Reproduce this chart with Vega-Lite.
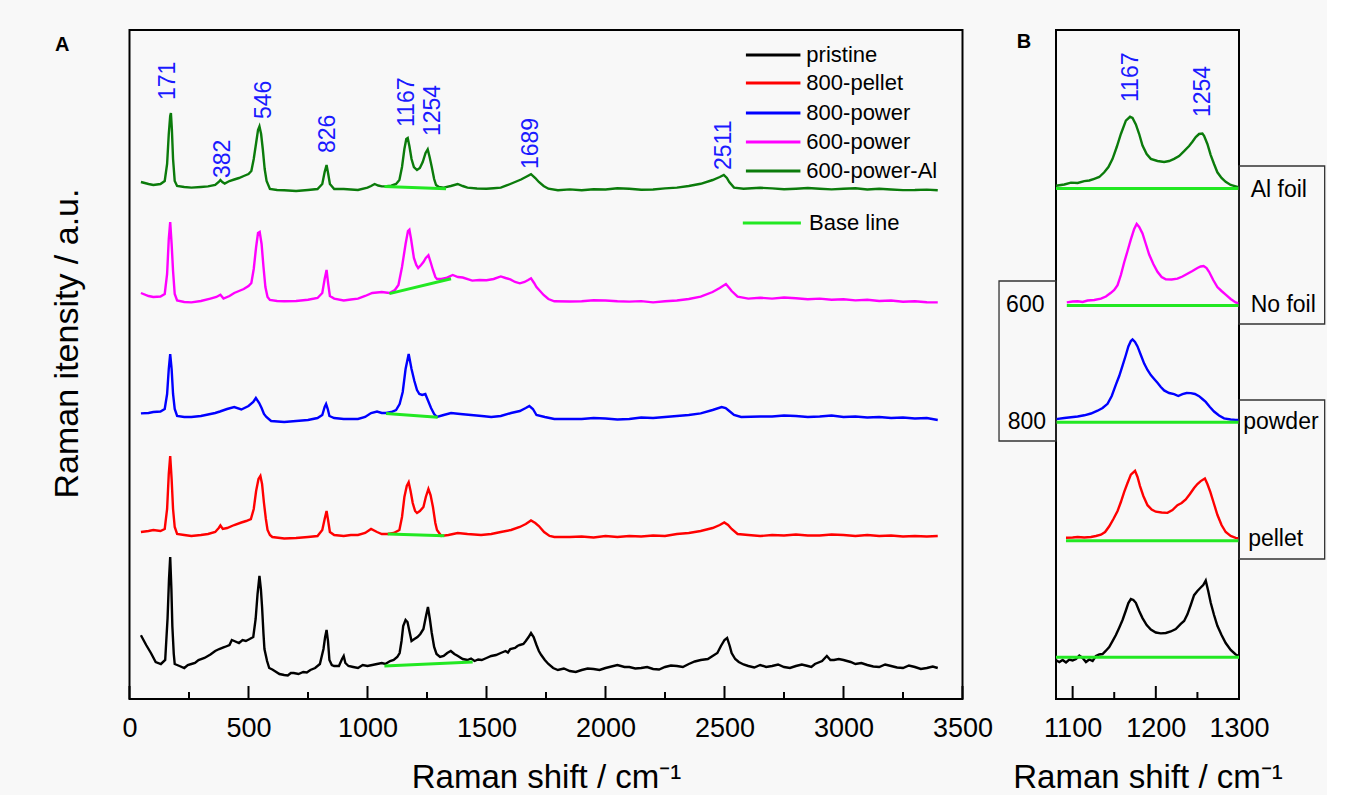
{
"$schema": "https://vega.github.io/schema/vega-lite/v6.json",
"background": "#f8f8f8",
"padding": {"left": 49.5, "top": 29, "right": 0, "bottom": 0},
"bounds": "flush",
"spacing": 93.5,
"config": {
  "view": {"stroke": "black", "strokeWidth": 2},
  "font": "Liberation Sans",
  "text": {"font": "Liberation Sans"},
  "axis": {"labelFont": "Liberation Sans", "titleFont": "Liberation Sans", "labelColor": "black", "titleColor": "black", "titleFontWeight": "normal"}
},
"datasets": {
  "specA": [
    {"s":"pristine","x":48,"y":63.7},{"s":"pristine","x":70,"y":54},{"s":"pristine","x":90,"y":46},{"s":"pristine","x":110,"y":37},{"s":"pristine","x":132,"y":35},{"s":"pristine","x":150,"y":39},{"s":"pristine","x":160,"y":81},{"s":"pristine","x":166,"y":120},{"s":"pristine","x":171,"y":142},{"s":"pristine","x":176,"y":110},{"s":"pristine","x":180,"y":73},{"s":"pristine","x":186,"y":45},{"s":"pristine","x":190,"y":35},{"s":"pristine","x":210,"y":33},{"s":"pristine","x":230,"y":31},{"s":"pristine","x":245,"y":34},{"s":"pristine","x":260,"y":35},{"s":"pristine","x":275,"y":36},{"s":"pristine","x":290,"y":39},{"s":"pristine","x":315,"y":41},{"s":"pristine","x":340,"y":44.5},{"s":"pristine","x":360,"y":48},{"s":"pristine","x":377,"y":50},{"s":"pristine","x":400,"y":52},{"s":"pristine","x":420,"y":54},{"s":"pristine","x":430,"y":59},{"s":"pristine","x":440,"y":58},{"s":"pristine","x":460,"y":56},{"s":"pristine","x":475,"y":59},{"s":"pristine","x":489,"y":58},{"s":"pristine","x":505,"y":60},{"s":"pristine","x":520,"y":62},{"s":"pristine","x":530,"y":80},{"s":"pristine","x":538,"y":105},{"s":"pristine","x":546,"y":123},{"s":"pristine","x":552,"y":110},{"s":"pristine","x":557,"y":92},{"s":"pristine","x":563,"y":65},{"s":"pristine","x":567,"y":50},{"s":"pristine","x":578,"y":38},{"s":"pristine","x":587,"y":31},{"s":"pristine","x":600,"y":29.5},{"s":"pristine","x":610,"y":28},{"s":"pristine","x":630,"y":25},{"s":"pristine","x":650,"y":24},{"s":"pristine","x":665,"y":23.5},{"s":"pristine","x":678,"y":26},{"s":"pristine","x":690,"y":26},{"s":"pristine","x":710,"y":25},{"s":"pristine","x":730,"y":27},{"s":"pristine","x":745,"y":26.5},{"s":"pristine","x":760,"y":29},{"s":"pristine","x":780,"y":31},{"s":"pristine","x":800,"y":35},{"s":"pristine","x":815,"y":50},{"s":"pristine","x":822,"y":62},{"s":"pristine","x":828,"y":69},{"s":"pristine","x":834,"y":58},{"s":"pristine","x":840,"y":39},{"s":"pristine","x":850,"y":34},{"s":"pristine","x":860,"y":33},{"s":"pristine","x":880,"y":33},{"s":"pristine","x":893,"y":40},{"s":"pristine","x":900,"y":43},{"s":"pristine","x":907,"y":36},{"s":"pristine","x":920,"y":33},{"s":"pristine","x":940,"y":32},{"s":"pristine","x":960,"y":31},{"s":"pristine","x":980,"y":34},{"s":"pristine","x":1000,"y":33},{"s":"pristine","x":1020,"y":34},{"s":"pristine","x":1040,"y":35},{"s":"pristine","x":1060,"y":36},{"s":"pristine","x":1075,"y":35},{"s":"pristine","x":1095,"y":38},{"s":"pristine","x":1110,"y":39},{"s":"pristine","x":1125,"y":42},{"s":"pristine","x":1135,"y":46},{"s":"pristine","x":1143,"y":58},{"s":"pristine","x":1150,"y":73},{"s":"pristine","x":1160,"y":79},{"s":"pristine","x":1168,"y":77},{"s":"pristine","x":1176,"y":68},{"s":"pristine","x":1185,"y":58},{"s":"pristine","x":1197,"y":60},{"s":"pristine","x":1210,"y":62},{"s":"pristine","x":1222,"y":65},{"s":"pristine","x":1235,"y":70},{"s":"pristine","x":1245,"y":82},{"s":"pristine","x":1254,"y":92},{"s":"pristine","x":1262,"y":80},{"s":"pristine","x":1270,"y":66},{"s":"pristine","x":1280,"y":52},{"s":"pristine","x":1290,"y":45},{"s":"pristine","x":1305,"y":42},{"s":"pristine","x":1320,"y":43},{"s":"pristine","x":1335,"y":46},{"s":"pristine","x":1350,"y":48},{"s":"pristine","x":1365,"y":45},{"s":"pristine","x":1380,"y":43},{"s":"pristine","x":1400,"y":40},{"s":"pristine","x":1420,"y":39},{"s":"pristine","x":1435,"y":40.5},{"s":"pristine","x":1450,"y":38},{"s":"pristine","x":1465,"y":39.5},{"s":"pristine","x":1480,"y":39},{"s":"pristine","x":1500,"y":41},{"s":"pristine","x":1520,"y":43},{"s":"pristine","x":1540,"y":44},{"s":"pristine","x":1560,"y":46},{"s":"pristine","x":1580,"y":48},{"s":"pristine","x":1590,"y":46.5},{"s":"pristine","x":1600,"y":50},{"s":"pristine","x":1620,"y":51},{"s":"pristine","x":1630,"y":53},{"s":"pristine","x":1640,"y":54},{"s":"pristine","x":1655,"y":55},{"s":"pristine","x":1665,"y":58},{"s":"pristine","x":1677,"y":62},{"s":"pristine","x":1687,"y":66},{"s":"pristine","x":1698,"y":62},{"s":"pristine","x":1710,"y":54},{"s":"pristine","x":1720,"y":48},{"s":"pristine","x":1730,"y":44},{"s":"pristine","x":1745,"y":39},{"s":"pristine","x":1760,"y":35},{"s":"pristine","x":1780,"y":31},{"s":"pristine","x":1800,"y":29},{"s":"pristine","x":1825,"y":30.5},{"s":"pristine","x":1850,"y":28},{"s":"pristine","x":1875,"y":27},{"s":"pristine","x":1900,"y":29},{"s":"pristine","x":1925,"y":30.5},{"s":"pristine","x":1950,"y":30},{"s":"pristine","x":1975,"y":29},{"s":"pristine","x":2000,"y":31},{"s":"pristine","x":2025,"y":32.5},{"s":"pristine","x":2050,"y":34},{"s":"pristine","x":2080,"y":32},{"s":"pristine","x":2100,"y":32},{"s":"pristine","x":2125,"y":30.5},{"s":"pristine","x":2150,"y":31},{"s":"pristine","x":2175,"y":32},{"s":"pristine","x":2200,"y":30},{"s":"pristine","x":2225,"y":29.5},{"s":"pristine","x":2250,"y":32},{"s":"pristine","x":2275,"y":33.5},{"s":"pristine","x":2300,"y":33},{"s":"pristine","x":2325,"y":32},{"s":"pristine","x":2350,"y":35},{"s":"pristine","x":2375,"y":37.5},{"s":"pristine","x":2400,"y":39},{"s":"pristine","x":2430,"y":40},{"s":"pristine","x":2450,"y":43},{"s":"pristine","x":2470,"y":46},{"s":"pristine","x":2485,"y":53},{"s":"pristine","x":2500,"y":59},{"s":"pristine","x":2511,"y":61},{"s":"pristine","x":2522,"y":53},{"s":"pristine","x":2530,"y":46},{"s":"pristine","x":2545,"y":40},{"s":"pristine","x":2560,"y":37},{"s":"pristine","x":2580,"y":34.5},{"s":"pristine","x":2600,"y":33},{"s":"pristine","x":2625,"y":31.5},{"s":"pristine","x":2650,"y":34},{"s":"pristine","x":2675,"y":32},{"s":"pristine","x":2700,"y":33},{"s":"pristine","x":2725,"y":34.5},{"s":"pristine","x":2750,"y":32},{"s":"pristine","x":2775,"y":31},{"s":"pristine","x":2800,"y":33},{"s":"pristine","x":2825,"y":34.5},{"s":"pristine","x":2850,"y":33},{"s":"pristine","x":2865,"y":32},{"s":"pristine","x":2880,"y":35},{"s":"pristine","x":2910,"y":38},{"s":"pristine","x":2930,"y":43},{"s":"pristine","x":2945,"y":39},{"s":"pristine","x":2960,"y":39},{"s":"pristine","x":2980,"y":40},{"s":"pristine","x":3000,"y":39},{"s":"pristine","x":3030,"y":37},{"s":"pristine","x":3050,"y":35},{"s":"pristine","x":3075,"y":36},{"s":"pristine","x":3100,"y":34},{"s":"pristine","x":3125,"y":32.5},{"s":"pristine","x":3150,"y":32},{"s":"pristine","x":3175,"y":34.5},{"s":"pristine","x":3200,"y":33},{"s":"pristine","x":3225,"y":31.5},{"s":"pristine","x":3250,"y":31},{"s":"pristine","x":3275,"y":33.5},{"s":"pristine","x":3300,"y":32},{"s":"pristine","x":3325,"y":30},{"s":"pristine","x":3350,"y":31},{"s":"pristine","x":3375,"y":32.5},{"s":"pristine","x":3396,"y":31},

    {"s":"800-pellet","x":48,"y":167},{"s":"800-pellet","x":80,"y":168},{"s":"800-pellet","x":100,"y":169},{"s":"800-pellet","x":130,"y":168},{"s":"800-pellet","x":148,"y":170},{"s":"800-pellet","x":158,"y":190},{"s":"800-pellet","x":165,"y":225},{"s":"800-pellet","x":171,"y":243},{"s":"800-pellet","x":177,"y":220},{"s":"800-pellet","x":183,"y":190},{"s":"800-pellet","x":190,"y":172},{"s":"800-pellet","x":200,"y":165},{"s":"800-pellet","x":230,"y":164},{"s":"800-pellet","x":260,"y":163},{"s":"800-pellet","x":300,"y":164},{"s":"800-pellet","x":330,"y":165},{"s":"800-pellet","x":360,"y":167},{"s":"800-pellet","x":375,"y":171},{"s":"800-pellet","x":382,"y":173.5},{"s":"800-pellet","x":392,"y":170},{"s":"800-pellet","x":410,"y":171},{"s":"800-pellet","x":440,"y":174},{"s":"800-pellet","x":470,"y":176.5},{"s":"800-pellet","x":490,"y":178},{"s":"800-pellet","x":510,"y":180},{"s":"800-pellet","x":522,"y":190},{"s":"800-pellet","x":532,"y":208},{"s":"800-pellet","x":542,"y":220},{"s":"800-pellet","x":550,"y":223},{"s":"800-pellet","x":557,"y":215},{"s":"800-pellet","x":565,"y":196},{"s":"800-pellet","x":573,"y":180},{"s":"800-pellet","x":580,"y":169},{"s":"800-pellet","x":590,"y":164},{"s":"800-pellet","x":600,"y":162},{"s":"800-pellet","x":650,"y":160.5},{"s":"800-pellet","x":700,"y":161},{"s":"800-pellet","x":750,"y":162},{"s":"800-pellet","x":790,"y":163},{"s":"800-pellet","x":810,"y":169},{"s":"800-pellet","x":820,"y":180},{"s":"800-pellet","x":828,"y":188},{"s":"800-pellet","x":835,"y":178},{"s":"800-pellet","x":842,"y":167},{"s":"800-pellet","x":860,"y":164},{"s":"800-pellet","x":900,"y":163},{"s":"800-pellet","x":930,"y":164},{"s":"800-pellet","x":960,"y":164},{"s":"800-pellet","x":990,"y":166},{"s":"800-pellet","x":1015,"y":170},{"s":"800-pellet","x":1040,"y":167},{"s":"800-pellet","x":1060,"y":165},{"s":"800-pellet","x":1085,"y":165},{"s":"800-pellet","x":1110,"y":166},{"s":"800-pellet","x":1134,"y":169},{"s":"800-pellet","x":1145,"y":182},{"s":"800-pellet","x":1155,"y":202},{"s":"800-pellet","x":1165,"y":213},{"s":"800-pellet","x":1173,"y":216.7},{"s":"800-pellet","x":1181,"y":208},{"s":"800-pellet","x":1190,"y":196},{"s":"800-pellet","x":1200,"y":188},{"s":"800-pellet","x":1208,"y":186},{"s":"800-pellet","x":1220,"y":188},{"s":"800-pellet","x":1235,"y":192},{"s":"800-pellet","x":1245,"y":202},{"s":"800-pellet","x":1256,"y":210},{"s":"800-pellet","x":1265,"y":204},{"s":"800-pellet","x":1275,"y":192},{"s":"800-pellet","x":1285,"y":176},{"s":"800-pellet","x":1292,"y":169},{"s":"800-pellet","x":1310,"y":163},{"s":"800-pellet","x":1340,"y":164},{"s":"800-pellet","x":1379,"y":166},{"s":"800-pellet","x":1420,"y":165},{"s":"800-pellet","x":1477,"y":164},{"s":"800-pellet","x":1520,"y":165},{"s":"800-pellet","x":1560,"y":167},{"s":"800-pellet","x":1603,"y":169},{"s":"800-pellet","x":1640,"y":172},{"s":"800-pellet","x":1665,"y":175},{"s":"800-pellet","x":1687,"y":178.5},{"s":"800-pellet","x":1705,"y":176},{"s":"800-pellet","x":1720,"y":173},{"s":"800-pellet","x":1742,"y":167},{"s":"800-pellet","x":1765,"y":163},{"s":"800-pellet","x":1785,"y":162},{"s":"800-pellet","x":1850,"y":162},{"s":"800-pellet","x":1900,"y":162.5},{"s":"800-pellet","x":1950,"y":161.5},{"s":"800-pellet","x":2000,"y":163},{"s":"800-pellet","x":2050,"y":162},{"s":"800-pellet","x":2100,"y":163},{"s":"800-pellet","x":2150,"y":162.5},{"s":"800-pellet","x":2200,"y":163.5},{"s":"800-pellet","x":2250,"y":163},{"s":"800-pellet","x":2300,"y":165},{"s":"800-pellet","x":2350,"y":166},{"s":"800-pellet","x":2400,"y":168},{"s":"800-pellet","x":2450,"y":171},{"s":"800-pellet","x":2480,"y":174},{"s":"800-pellet","x":2499,"y":176.5},{"s":"800-pellet","x":2515,"y":174},{"s":"800-pellet","x":2530,"y":170},{"s":"800-pellet","x":2555,"y":165},{"s":"800-pellet","x":2600,"y":164},{"s":"800-pellet","x":2650,"y":163},{"s":"800-pellet","x":2700,"y":164},{"s":"800-pellet","x":2750,"y":163.5},{"s":"800-pellet","x":2800,"y":164.5},{"s":"800-pellet","x":2850,"y":163.5},{"s":"800-pellet","x":2900,"y":163.5},{"s":"800-pellet","x":2950,"y":164.5},{"s":"800-pellet","x":3000,"y":164},{"s":"800-pellet","x":3050,"y":163},{"s":"800-pellet","x":3100,"y":164},{"s":"800-pellet","x":3150,"y":163},{"s":"800-pellet","x":3200,"y":163.5},{"s":"800-pellet","x":3250,"y":162.5},{"s":"800-pellet","x":3300,"y":163},{"s":"800-pellet","x":3350,"y":162.5},{"s":"800-pellet","x":3396,"y":163},

    {"s":"800-power","x":48,"y":285.6},{"s":"800-power","x":80,"y":286},{"s":"800-power","x":100,"y":287},{"s":"800-power","x":130,"y":287.5},{"s":"800-power","x":148,"y":290},{"s":"800-power","x":158,"y":305},{"s":"800-power","x":165,"y":330},{"s":"800-power","x":171,"y":345},{"s":"800-power","x":177,"y":330},{"s":"800-power","x":183,"y":305},{"s":"800-power","x":190,"y":290},{"s":"800-power","x":200,"y":283},{"s":"800-power","x":230,"y":282},{"s":"800-power","x":260,"y":282},{"s":"800-power","x":300,"y":283},{"s":"800-power","x":330,"y":284.5},{"s":"800-power","x":360,"y":286},{"s":"800-power","x":380,"y":287.5},{"s":"800-power","x":410,"y":290},{"s":"800-power","x":440,"y":292},{"s":"800-power","x":470,"y":289.5},{"s":"800-power","x":500,"y":293},{"s":"800-power","x":520,"y":297},{"s":"800-power","x":531,"y":301},{"s":"800-power","x":545,"y":296},{"s":"800-power","x":555,"y":291},{"s":"800-power","x":565,"y":285},{"s":"800-power","x":575,"y":282},{"s":"800-power","x":595,"y":278},{"s":"800-power","x":650,"y":277},{"s":"800-power","x":700,"y":278},{"s":"800-power","x":750,"y":279},{"s":"800-power","x":790,"y":281},{"s":"800-power","x":810,"y":284},{"s":"800-power","x":820,"y":292},{"s":"800-power","x":826,"y":295},{"s":"800-power","x":833,"y":290},{"s":"800-power","x":840,"y":283},{"s":"800-power","x":860,"y":281},{"s":"800-power","x":900,"y":280},{"s":"800-power","x":960,"y":280},{"s":"800-power","x":990,"y":282},{"s":"800-power","x":1015,"y":286},{"s":"800-power","x":1040,"y":287.5},{"s":"800-power","x":1060,"y":286},{"s":"800-power","x":1078,"y":286},{"s":"800-power","x":1100,"y":287},{"s":"800-power","x":1120,"y":289},{"s":"800-power","x":1135,"y":295},{"s":"800-power","x":1148,"y":307},{"s":"800-power","x":1160,"y":330},{"s":"800-power","x":1173,"y":345},{"s":"800-power","x":1185,"y":330},{"s":"800-power","x":1197,"y":318},{"s":"800-power","x":1208,"y":309},{"s":"800-power","x":1218,"y":305},{"s":"800-power","x":1230,"y":304},{"s":"800-power","x":1243,"y":305},{"s":"800-power","x":1255,"y":298},{"s":"800-power","x":1267,"y":291},{"s":"800-power","x":1280,"y":285},{"s":"800-power","x":1292,"y":282},{"s":"800-power","x":1320,"y":284},{"s":"800-power","x":1351,"y":286},{"s":"800-power","x":1390,"y":285},{"s":"800-power","x":1435,"y":284},{"s":"800-power","x":1480,"y":283},{"s":"800-power","x":1520,"y":282},{"s":"800-power","x":1560,"y":283},{"s":"800-power","x":1603,"y":286},{"s":"800-power","x":1640,"y":288},{"s":"800-power","x":1665,"y":291},{"s":"800-power","x":1680,"y":293},{"s":"800-power","x":1695,"y":290},{"s":"800-power","x":1710,"y":284},{"s":"800-power","x":1745,"y":282},{"s":"800-power","x":1785,"y":280},{"s":"800-power","x":1850,"y":280},{"s":"800-power","x":1900,"y":280},{"s":"800-power","x":1950,"y":281},{"s":"800-power","x":2000,"y":280.5},{"s":"800-power","x":2050,"y":279.5},{"s":"800-power","x":2100,"y":280},{"s":"800-power","x":2150,"y":281.5},{"s":"800-power","x":2200,"y":281},{"s":"800-power","x":2250,"y":282},{"s":"800-power","x":2300,"y":283},{"s":"800-power","x":2350,"y":284},{"s":"800-power","x":2400,"y":285.6},{"s":"800-power","x":2450,"y":289},{"s":"800-power","x":2488,"y":292},{"s":"800-power","x":2505,"y":291},{"s":"800-power","x":2520,"y":288},{"s":"800-power","x":2540,"y":284},{"s":"800-power","x":2570,"y":282},{"s":"800-power","x":2650,"y":282.5},{"s":"800-power","x":2700,"y":282.5},{"s":"800-power","x":2750,"y":283.5},{"s":"800-power","x":2800,"y":283},{"s":"800-power","x":2850,"y":282},{"s":"800-power","x":2900,"y":282.5},{"s":"800-power","x":2950,"y":283.5},{"s":"800-power","x":3000,"y":282},{"s":"800-power","x":3050,"y":282.5},{"s":"800-power","x":3100,"y":281.5},{"s":"800-power","x":3150,"y":282},{"s":"800-power","x":3200,"y":281},{"s":"800-power","x":3250,"y":281.5},{"s":"800-power","x":3300,"y":280.5},{"s":"800-power","x":3350,"y":281},{"s":"800-power","x":3396,"y":279},

    {"s":"600-power","x":48,"y":406},{"s":"600-power","x":80,"y":403},{"s":"600-power","x":100,"y":402},{"s":"600-power","x":130,"y":402.5},{"s":"600-power","x":148,"y":405},{"s":"600-power","x":158,"y":425},{"s":"600-power","x":165,"y":460},{"s":"600-power","x":171,"y":477},{"s":"600-power","x":177,"y":455},{"s":"600-power","x":183,"y":428},{"s":"600-power","x":190,"y":405},{"s":"600-power","x":200,"y":398.5},{"s":"600-power","x":230,"y":397},{"s":"600-power","x":260,"y":396.6},{"s":"600-power","x":300,"y":398},{"s":"600-power","x":340,"y":400.4},{"s":"600-power","x":365,"y":402},{"s":"600-power","x":382,"y":404.3},{"s":"600-power","x":395,"y":400.4},{"s":"600-power","x":420,"y":403},{"s":"600-power","x":440,"y":406},{"s":"600-power","x":460,"y":408},{"s":"600-power","x":480,"y":410},{"s":"600-power","x":500,"y":413},{"s":"600-power","x":512,"y":416},{"s":"600-power","x":522,"y":430},{"s":"600-power","x":532,"y":452},{"s":"600-power","x":540,"y":466},{"s":"600-power","x":547,"y":467},{"s":"600-power","x":555,"y":455},{"s":"600-power","x":563,"y":432},{"s":"600-power","x":571,"y":412},{"s":"600-power","x":580,"y":402},{"s":"600-power","x":590,"y":399},{"s":"600-power","x":620,"y":398},{"s":"600-power","x":650,"y":397.7},{"s":"600-power","x":700,"y":398},{"s":"600-power","x":750,"y":399.3},{"s":"600-power","x":790,"y":401},{"s":"600-power","x":810,"y":406},{"s":"600-power","x":820,"y":420},{"s":"600-power","x":828,"y":429},{"s":"600-power","x":835,"y":415},{"s":"600-power","x":842,"y":403},{"s":"600-power","x":860,"y":400.4},{"s":"600-power","x":900,"y":398.5},{"s":"600-power","x":930,"y":399.5},{"s":"600-power","x":960,"y":400.4},{"s":"600-power","x":990,"y":403},{"s":"600-power","x":1020,"y":406},{"s":"600-power","x":1060,"y":407},{"s":"600-power","x":1092,"y":406},{"s":"600-power","x":1115,"y":409},{"s":"600-power","x":1130,"y":414},{"s":"600-power","x":1145,"y":432},{"s":"600-power","x":1160,"y":455},{"s":"600-power","x":1170,"y":468},{"s":"600-power","x":1176,"y":469.3},{"s":"600-power","x":1183,"y":460},{"s":"600-power","x":1195,"y":441},{"s":"600-power","x":1205,"y":434},{"s":"600-power","x":1213,"y":431},{"s":"600-power","x":1225,"y":434},{"s":"600-power","x":1235,"y":437},{"s":"600-power","x":1245,"y":441},{"s":"600-power","x":1256,"y":443.7},{"s":"600-power","x":1265,"y":437},{"s":"600-power","x":1275,"y":429},{"s":"600-power","x":1285,"y":422},{"s":"600-power","x":1292,"y":420},{"s":"600-power","x":1310,"y":420},{"s":"600-power","x":1330,"y":421},{"s":"600-power","x":1358,"y":424},{"s":"600-power","x":1380,"y":422},{"s":"600-power","x":1400,"y":421.5},{"s":"600-power","x":1440,"y":418.4},{"s":"600-power","x":1470,"y":419},{"s":"600-power","x":1500,"y":418.8},{"s":"600-power","x":1530,"y":420},{"s":"600-power","x":1560,"y":422.6},{"s":"600-power","x":1580,"y":421},{"s":"600-power","x":1600,"y":419.6},{"s":"600-power","x":1620,"y":417},{"s":"600-power","x":1640,"y":415.7},{"s":"600-power","x":1660,"y":417},{"s":"600-power","x":1675,"y":419},{"s":"600-power","x":1687,"y":420.7},{"s":"600-power","x":1700,"y":416},{"s":"600-power","x":1710,"y":412},{"s":"600-power","x":1725,"y":408},{"s":"600-power","x":1740,"y":404},{"s":"600-power","x":1760,"y":400},{"s":"600-power","x":1785,"y":397.7},{"s":"600-power","x":1850,"y":397.5},{"s":"600-power","x":1900,"y":397.7},{"s":"600-power","x":1950,"y":398.8},{"s":"600-power","x":2000,"y":398.5},{"s":"600-power","x":2050,"y":397.8},{"s":"600-power","x":2100,"y":397.4},{"s":"600-power","x":2150,"y":397.9},{"s":"600-power","x":2200,"y":396.6},{"s":"600-power","x":2250,"y":397.8},{"s":"600-power","x":2300,"y":398.5},{"s":"600-power","x":2350,"y":400},{"s":"600-power","x":2400,"y":402.3},{"s":"600-power","x":2450,"y":407},{"s":"600-power","x":2480,"y":411},{"s":"600-power","x":2506,"y":415},{"s":"600-power","x":2520,"y":411},{"s":"600-power","x":2530,"y":408},{"s":"600-power","x":2555,"y":402.3},{"s":"600-power","x":2600,"y":400.4},{"s":"600-power","x":2650,"y":401.2},{"s":"600-power","x":2700,"y":400.4},{"s":"600-power","x":2750,"y":401.5},{"s":"600-power","x":2800,"y":400.8},{"s":"600-power","x":2850,"y":399.8},{"s":"600-power","x":2900,"y":400.4},{"s":"600-power","x":2950,"y":399.2},{"s":"600-power","x":3000,"y":399.7},{"s":"600-power","x":3050,"y":398.6},{"s":"600-power","x":3100,"y":399.3},{"s":"600-power","x":3150,"y":398},{"s":"600-power","x":3200,"y":398.5},{"s":"600-power","x":3250,"y":397.3},{"s":"600-power","x":3300,"y":397.7},{"s":"600-power","x":3350,"y":396.8},{"s":"600-power","x":3396,"y":396.6},

    {"s":"600-power-Al","x":48,"y":517},{"s":"600-power-Al","x":80,"y":515},{"s":"600-power-Al","x":100,"y":514},{"s":"600-power-Al","x":130,"y":515},{"s":"600-power-Al","x":148,"y":518},{"s":"600-power-Al","x":158,"y":535},{"s":"600-power-Al","x":165,"y":565},{"s":"600-power-Al","x":171,"y":583},{"s":"600-power-Al","x":174,"y":586},{"s":"600-power-Al","x":178,"y":570},{"s":"600-power-Al","x":183,"y":540},{"s":"600-power-Al","x":190,"y":518},{"s":"600-power-Al","x":200,"y":513},{"s":"600-power-Al","x":230,"y":512},{"s":"600-power-Al","x":260,"y":511.4},{"s":"600-power-Al","x":300,"y":512},{"s":"600-power-Al","x":330,"y":512.6},{"s":"600-power-Al","x":360,"y":514},{"s":"600-power-Al","x":375,"y":517},{"s":"600-power-Al","x":382,"y":519},{"s":"600-power-Al","x":390,"y":517},{"s":"600-power-Al","x":400,"y":515.5},{"s":"600-power-Al","x":420,"y":518},{"s":"600-power-Al","x":440,"y":519.5},{"s":"600-power-Al","x":460,"y":521},{"s":"600-power-Al","x":480,"y":523},{"s":"600-power-Al","x":500,"y":525},{"s":"600-power-Al","x":512,"y":528},{"s":"600-power-Al","x":522,"y":540},{"s":"600-power-Al","x":532,"y":556},{"s":"600-power-Al","x":540,"y":569},{"s":"600-power-Al","x":546,"y":572.6},{"s":"600-power-Al","x":553,"y":565},{"s":"600-power-Al","x":560,"y":550},{"s":"600-power-Al","x":568,"y":530},{"s":"600-power-Al","x":576,"y":518},{"s":"600-power-Al","x":590,"y":510},{"s":"600-power-Al","x":620,"y":509},{"s":"600-power-Al","x":650,"y":508.7},{"s":"600-power-Al","x":700,"y":508},{"s":"600-power-Al","x":750,"y":509},{"s":"600-power-Al","x":790,"y":510},{"s":"600-power-Al","x":810,"y":515},{"s":"600-power-Al","x":820,"y":527},{"s":"600-power-Al","x":828,"y":534},{"s":"600-power-Al","x":835,"y":525},{"s":"600-power-Al","x":842,"y":515},{"s":"600-power-Al","x":860,"y":510},{"s":"600-power-Al","x":900,"y":510},{"s":"600-power-Al","x":960,"y":509},{"s":"600-power-Al","x":1000,"y":511.4},{"s":"600-power-Al","x":1015,"y":513},{"s":"600-power-Al","x":1030,"y":515},{"s":"600-power-Al","x":1045,"y":513.5},{"s":"600-power-Al","x":1060,"y":512.6},{"s":"600-power-Al","x":1080,"y":512.8},{"s":"600-power-Al","x":1100,"y":513.3},{"s":"600-power-Al","x":1120,"y":515},{"s":"600-power-Al","x":1134,"y":519},{"s":"600-power-Al","x":1145,"y":532},{"s":"600-power-Al","x":1155,"y":550},{"s":"600-power-Al","x":1163,"y":560},{"s":"600-power-Al","x":1169,"y":561},{"s":"600-power-Al","x":1176,"y":553},{"s":"600-power-Al","x":1185,"y":540},{"s":"600-power-Al","x":1195,"y":532},{"s":"600-power-Al","x":1208,"y":529},{"s":"600-power-Al","x":1220,"y":531},{"s":"600-power-Al","x":1232,"y":537},{"s":"600-power-Al","x":1244,"y":546},{"s":"600-power-Al","x":1253,"y":549.7},{"s":"600-power-Al","x":1261,"y":542},{"s":"600-power-Al","x":1270,"y":532},{"s":"600-power-Al","x":1280,"y":520},{"s":"600-power-Al","x":1288,"y":514},{"s":"600-power-Al","x":1300,"y":512},{"s":"600-power-Al","x":1320,"y":511.4},{"s":"600-power-Al","x":1350,"y":513},{"s":"600-power-Al","x":1379,"y":515},{"s":"600-power-Al","x":1400,"y":513},{"s":"600-power-Al","x":1420,"y":511.4},{"s":"600-power-Al","x":1460,"y":510.5},{"s":"600-power-Al","x":1500,"y":510.3},{"s":"600-power-Al","x":1530,"y":510.8},{"s":"600-power-Al","x":1560,"y":511.4},{"s":"600-power-Al","x":1590,"y":514},{"s":"600-power-Al","x":1620,"y":517},{"s":"600-power-Al","x":1645,"y":519.5},{"s":"600-power-Al","x":1665,"y":522},{"s":"600-power-Al","x":1687,"y":524.8},{"s":"600-power-Al","x":1705,"y":521},{"s":"600-power-Al","x":1720,"y":517},{"s":"600-power-Al","x":1740,"y":513},{"s":"600-power-Al","x":1760,"y":510.3},{"s":"600-power-Al","x":1800,"y":508.7},{"s":"600-power-Al","x":1850,"y":509.6},{"s":"600-power-Al","x":1900,"y":508.7},{"s":"600-power-Al","x":1950,"y":509.8},{"s":"600-power-Al","x":2000,"y":509.5},{"s":"600-power-Al","x":2050,"y":510.8},{"s":"600-power-Al","x":2100,"y":510.3},{"s":"600-power-Al","x":2150,"y":509.2},{"s":"600-power-Al","x":2200,"y":509.5},{"s":"600-power-Al","x":2250,"y":510.6},{"s":"600-power-Al","x":2300,"y":511.4},{"s":"600-power-Al","x":2350,"y":513},{"s":"600-power-Al","x":2400,"y":515.2},{"s":"600-power-Al","x":2450,"y":519},{"s":"600-power-Al","x":2480,"y":522},{"s":"600-power-Al","x":2497,"y":524},{"s":"600-power-Al","x":2510,"y":521},{"s":"600-power-Al","x":2520,"y":517},{"s":"600-power-Al","x":2540,"y":511.4},{"s":"600-power-Al","x":2580,"y":510.3},{"s":"600-power-Al","x":2650,"y":511.2},{"s":"600-power-Al","x":2700,"y":510.6},{"s":"600-power-Al","x":2750,"y":509.7},{"s":"600-power-Al","x":2800,"y":510.3},{"s":"600-power-Al","x":2850,"y":511},{"s":"600-power-Al","x":2900,"y":510.3},{"s":"600-power-Al","x":2950,"y":509.6},{"s":"600-power-Al","x":3000,"y":510.3},{"s":"600-power-Al","x":3050,"y":510.8},{"s":"600-power-Al","x":3100,"y":509.5},{"s":"600-power-Al","x":3150,"y":510.2},{"s":"600-power-Al","x":3200,"y":509.5},{"s":"600-power-Al","x":3250,"y":508.9},{"s":"600-power-Al","x":3300,"y":509},{"s":"600-power-Al","x":3350,"y":509.4},{"s":"600-power-Al","x":3396,"y":508.7}
  ],
  "baseA": [
    {"x":1071,"x2":1330,"y":512.6,"y2":510.3},
    {"x":1092,"x2":1351,"y":405.4,"y2":420.3},
    {"x":1078,"x2":1295,"y":285.6,"y2":281.8},
    {"x":1085,"x2":1323,"y":165.1,"y2":163.2},
    {"x":1071,"x2":1442,"y":33.1,"y2":36.9}
  ],
  "ticksA": [
    {"x":0,"y":0,"y2":13},{"x":250,"y":0,"y2":7},{"x":500,"y":0,"y2":13},{"x":750,"y":0,"y2":7},{"x":1000,"y":0,"y2":13},{"x":1250,"y":0,"y2":7},{"x":1500,"y":0,"y2":13},{"x":1750,"y":0,"y2":7},
    {"x":2000,"y":0,"y2":13},{"x":2250,"y":0,"y2":7},{"x":2500,"y":0,"y2":13},{"x":2750,"y":0,"y2":7},{"x":3000,"y":0,"y2":13},{"x":3250,"y":0,"y2":7},{"x":3500,"y":0,"y2":13}
  ],
  "peaksA": [
    {"t":"171","x":162,"y":599},{"t":"382","x":391,"y":521},{"t":"546","x":567,"y":580},{"t":"826","x":833,"y":546},
    {"t":"1167","x":1166,"y":572},{"t":"1254","x":1275,"y":563},{"t":"1689","x":1687,"y":530},{"t":"2511","x":2498,"y":529}
  ],
  "legendL": [
    {"s":"pristine","x":2590,"x2":2819,"y":644},{"s":"800-pellet","x":2590,"x2":2819,"y":616},{"s":"800-power","x":2590,"x2":2819,"y":586},
    {"s":"600-power","x":2590,"x2":2819,"y":557},{"s":"600-power-Al","x":2590,"x2":2819,"y":528},{"s":"Base line","x":2577,"x2":2821,"y":476}
  ],
  "legendT": [
    {"s":"pristine","x":2844,"y":644},{"s":"800-pellet","x":2844,"y":616},{"s":"800-power","x":2844,"y":586},
    {"s":"600-power","x":2844,"y":557},{"s":"600-power-Al","x":2844,"y":528},{"s":"Base line","x":2855,"y":476}
  ],
  "panelA": [{"t":"A","x":-283,"y":654}],
  "specB": [
    {"s":"600-power-Al","x":1080,"y":513.3},{"s":"600-power-Al","x":1090,"y":514.5},{"s":"600-power-Al","x":1098,"y":516.4},{"s":"600-power-Al","x":1106,"y":516},{"s":"600-power-Al","x":1114,"y":517.9},{"s":"600-power-Al","x":1120,"y":518.5},{"s":"600-power-Al","x":1126,"y":520.2},{"s":"600-power-Al","x":1132,"y":522},{"s":"600-power-Al","x":1138,"y":526.7},{"s":"600-power-Al","x":1143,"y":532},{"s":"600-power-Al","x":1148,"y":540.1},{"s":"600-power-Al","x":1153,"y":552},{"s":"600-power-Al","x":1158,"y":565},{"s":"600-power-Al","x":1164,"y":578.4},{"s":"600-power-Al","x":1169,"y":582.2},{"s":"600-power-Al","x":1172,"y":581},{"s":"600-power-Al","x":1176,"y":574.6},{"s":"600-power-Al","x":1180,"y":565},{"s":"600-power-Al","x":1184,"y":553.5},{"s":"600-power-Al","x":1189,"y":545},{"s":"600-power-Al","x":1194,"y":540.1},{"s":"600-power-Al","x":1202,"y":538},{"s":"600-power-Al","x":1210,"y":537},{"s":"600-power-Al","x":1216,"y":538},{"s":"600-power-Al","x":1222,"y":540.1},{"s":"600-power-Al","x":1228,"y":543},{"s":"600-power-Al","x":1234,"y":547.8},{"s":"600-power-Al","x":1240,"y":553},{"s":"600-power-Al","x":1244,"y":557.3},{"s":"600-power-Al","x":1248,"y":562},{"s":"600-power-Al","x":1252,"y":565},{"s":"600-power-Al","x":1256,"y":565.5},{"s":"600-power-Al","x":1258,"y":563.1},{"s":"600-power-Al","x":1262,"y":555},{"s":"600-power-Al","x":1266,"y":543.9},{"s":"600-power-Al","x":1270,"y":535},{"s":"600-power-Al","x":1274,"y":526.7},{"s":"600-power-Al","x":1279,"y":521},{"s":"600-power-Al","x":1284,"y":517.2},{"s":"600-power-Al","x":1290,"y":514},{"s":"600-power-Al","x":1296,"y":512.6},{"s":"600-power-Al","x":1300,"y":511.5},

    {"s":"600-power","x":1093,"y":396.6},{"s":"600-power","x":1100,"y":397.5},{"s":"600-power","x":1106,"y":397.7},{"s":"600-power","x":1112,"y":397},{"s":"600-power","x":1118,"y":398.5},{"s":"600-power","x":1126,"y":399},{"s":"600-power","x":1134,"y":400.4},{"s":"600-power","x":1140,"y":402.5},{"s":"600-power","x":1146,"y":406.2},{"s":"600-power","x":1150,"y":409},{"s":"600-power","x":1154,"y":413.8},{"s":"600-power","x":1158,"y":424},{"s":"600-power","x":1162,"y":436.8},{"s":"600-power","x":1166,"y":448},{"s":"600-power","x":1170,"y":459.7},{"s":"600-power","x":1174,"y":470},{"s":"600-power","x":1177,"y":475},{"s":"600-power","x":1180,"y":472},{"s":"600-power","x":1184,"y":465.5},{"s":"600-power","x":1188,"y":455},{"s":"600-power","x":1192,"y":444.4},{"s":"600-power","x":1197,"y":435},{"s":"600-power","x":1202,"y":427.2},{"s":"600-power","x":1207,"y":422},{"s":"600-power","x":1212,"y":419.6},{"s":"600-power","x":1219,"y":419.5},{"s":"600-power","x":1226,"y":420.3},{"s":"600-power","x":1232,"y":422.5},{"s":"600-power","x":1238,"y":425.3},{"s":"600-power","x":1244,"y":428},{"s":"600-power","x":1250,"y":431},{"s":"600-power","x":1254,"y":432.5},{"s":"600-power","x":1257.5,"y":433},{"s":"600-power","x":1261,"y":431},{"s":"600-power","x":1264,"y":427.2},{"s":"600-power","x":1269,"y":419},{"s":"600-power","x":1274,"y":411.9},{"s":"600-power","x":1279,"y":408},{"s":"600-power","x":1284,"y":404.3},{"s":"600-power","x":1290,"y":400},{"s":"600-power","x":1296,"y":396.6},{"s":"600-power","x":1300,"y":395.5},

    {"s":"800-power","x":1080,"y":279.9},{"s":"800-power","x":1090,"y":281},{"s":"800-power","x":1098,"y":281.8},{"s":"800-power","x":1106,"y":282.5},{"s":"800-power","x":1114,"y":283.7},{"s":"800-power","x":1122,"y":285.5},{"s":"800-power","x":1130,"y":288.3},{"s":"800-power","x":1136,"y":291},{"s":"800-power","x":1142,"y":295.2},{"s":"800-power","x":1147,"y":303},{"s":"800-power","x":1152,"y":314.3},{"s":"800-power","x":1156,"y":323},{"s":"800-power","x":1160,"y":333.4},{"s":"800-power","x":1164,"y":344},{"s":"800-power","x":1167,"y":352.6},{"s":"800-power","x":1170,"y":358},{"s":"800-power","x":1172,"y":359.5},{"s":"800-power","x":1175,"y":357},{"s":"800-power","x":1178,"y":352.6},{"s":"800-power","x":1182,"y":344},{"s":"800-power","x":1186,"y":335.4},{"s":"800-power","x":1190,"y":329},{"s":"800-power","x":1194,"y":323.9},{"s":"800-power","x":1198,"y":320},{"s":"800-power","x":1202,"y":316.2},{"s":"800-power","x":1206,"y":312},{"s":"800-power","x":1210,"y":308.6},{"s":"800-power","x":1216,"y":306},{"s":"800-power","x":1222,"y":304.8},{"s":"800-power","x":1227,"y":303},{"s":"800-power","x":1232,"y":304.8},{"s":"800-power","x":1237,"y":306},{"s":"800-power","x":1242,"y":305.9},{"s":"800-power","x":1247,"y":305},{"s":"800-power","x":1252,"y":302.8},{"s":"800-power","x":1256,"y":300},{"s":"800-power","x":1260,"y":297.1},{"s":"800-power","x":1265,"y":292},{"s":"800-power","x":1270,"y":287.5},{"s":"800-power","x":1276,"y":283.5},{"s":"800-power","x":1282,"y":280.6},{"s":"800-power","x":1290,"y":279.5},{"s":"800-power","x":1296,"y":279.1},{"s":"800-power","x":1300,"y":279},

    {"s":"800-pellet","x":1092,"y":161.2},{"s":"800-pellet","x":1100,"y":161.5},{"s":"800-pellet","x":1106,"y":162},{"s":"800-pellet","x":1114,"y":161.5},{"s":"800-pellet","x":1122,"y":162},{"s":"800-pellet","x":1128,"y":163},{"s":"800-pellet","x":1134,"y":164.3},{"s":"800-pellet","x":1139,"y":167},{"s":"800-pellet","x":1144,"y":172.7},{"s":"800-pellet","x":1149,"y":180},{"s":"800-pellet","x":1154,"y":188},{"s":"800-pellet","x":1158,"y":197},{"s":"800-pellet","x":1162,"y":207.2},{"s":"800-pellet","x":1166,"y":216},{"s":"800-pellet","x":1170,"y":224.4},{"s":"800-pellet","x":1175,"y":228.2},{"s":"800-pellet","x":1178,"y":222},{"s":"800-pellet","x":1181,"y":212.9},{"s":"800-pellet","x":1185,"y":203},{"s":"800-pellet","x":1190,"y":193.8},{"s":"800-pellet","x":1195,"y":189.5},{"s":"800-pellet","x":1200,"y":187.3},{"s":"800-pellet","x":1207,"y":186.5},{"s":"800-pellet","x":1214,"y":186.1},{"s":"800-pellet","x":1220,"y":189},{"s":"800-pellet","x":1226,"y":193.8},{"s":"800-pellet","x":1231,"y":196},{"s":"800-pellet","x":1236,"y":199.5},{"s":"800-pellet","x":1241,"y":205},{"s":"800-pellet","x":1246,"y":211},{"s":"800-pellet","x":1250,"y":215},{"s":"800-pellet","x":1254,"y":217.9},{"s":"800-pellet","x":1259,"y":220.6},{"s":"800-pellet","x":1262,"y":215},{"s":"800-pellet","x":1265.5,"y":207.2},{"s":"800-pellet","x":1270,"y":195},{"s":"800-pellet","x":1274,"y":184.2},{"s":"800-pellet","x":1279,"y":174},{"s":"800-pellet","x":1284,"y":167},{"s":"800-pellet","x":1290,"y":163},{"s":"800-pellet","x":1296,"y":161.2},{"s":"800-pellet","x":1300,"y":160.5},

    {"s":"pristine","x":1080,"y":38.8},{"s":"pristine","x":1084,"y":37},{"s":"pristine","x":1088,"y":39},{"s":"pristine","x":1092,"y":36.5},{"s":"pristine","x":1096,"y":39.5},{"s":"pristine","x":1100,"y":38.5},{"s":"pristine","x":1104,"y":40},{"s":"pristine","x":1108,"y":43.4},{"s":"pristine","x":1112,"y":41},{"s":"pristine","x":1116,"y":37},{"s":"pristine","x":1120,"y":39.5},{"s":"pristine","x":1124,"y":38},{"s":"pristine","x":1128,"y":43},{"s":"pristine","x":1132,"y":44.5},{"s":"pristine","x":1136,"y":45},{"s":"pristine","x":1140,"y":48.3},{"s":"pristine","x":1144,"y":52},{"s":"pristine","x":1148,"y":57.9},{"s":"pristine","x":1152,"y":64},{"s":"pristine","x":1156,"y":71.3},{"s":"pristine","x":1160,"y":79},{"s":"pristine","x":1164,"y":88.5},{"s":"pristine","x":1167,"y":96},{"s":"pristine","x":1170,"y":100},{"s":"pristine","x":1173,"y":99},{"s":"pristine","x":1176,"y":96.2},{"s":"pristine","x":1180,"y":88},{"s":"pristine","x":1184,"y":80.9},{"s":"pristine","x":1189,"y":74},{"s":"pristine","x":1194,"y":69.4},{"s":"pristine","x":1200,"y":66.5},{"s":"pristine","x":1206,"y":65.6},{"s":"pristine","x":1212,"y":66},{"s":"pristine","x":1218,"y":67.5},{"s":"pristine","x":1224,"y":70},{"s":"pristine","x":1230,"y":75.1},{"s":"pristine","x":1234,"y":78},{"s":"pristine","x":1238,"y":84.7},{"s":"pristine","x":1242,"y":94},{"s":"pristine","x":1246,"y":103.8},{"s":"pristine","x":1250,"y":108},{"s":"pristine","x":1254,"y":111.5},{"s":"pristine","x":1257,"y":114},{"s":"pristine","x":1260,"y":118.4},{"s":"pristine","x":1263,"y":108},{"s":"pristine","x":1266,"y":96.2},{"s":"pristine","x":1270,"y":84},{"s":"pristine","x":1274,"y":73.2},{"s":"pristine","x":1279,"y":64},{"s":"pristine","x":1284,"y":56},{"s":"pristine","x":1290,"y":49},{"s":"pristine","x":1296,"y":44.5},{"s":"pristine","x":1300,"y":43}
  ],
  "baseB": [
    {"x":1080,"x2":1300,"y":510.6},{"x":1093,"x2":1300,"y":393.5},{"x":1080,"x2":1300,"y":276.8},{"x":1092,"x2":1300,"y":158.2},{"x":1080,"x2":1300,"y":41.8}
  ],
  "ticksB": [
    {"x":1100,"y":0,"y2":13},{"x":1150,"y":0,"y2":7},{"x":1200,"y":0,"y2":13},{"x":1250,"y":0,"y2":7},{"x":1300,"y":0,"y2":13}
  ],
  "peaksB": [{"t":"1167","x":1170,"y":597},{"t":"1254","x":1257,"y":582}],
  "boxesB": [
    {"x":1300,"x2":1403,"y":375,"y2":533},{"x":1300,"x2":1403,"y":140,"y2":299},{"x":1011.5,"x2":1080,"y":258,"y2":418}
  ],
  "boxText": [
    {"t":"Al foil","x":1314,"y":509},{"t":"No foil","x":1314,"y":394},{"t":"powder","x":1305,"y":277},{"t":"pellet","x":1311,"y":160},{"t":"600","x":1020,"y":394},{"t":"800","x":1022,"y":277}
  ],
  "panelB": [{"t":"B","x":1041.5,"y":657}]
},
"hconcat": [
  {
    "width": 833, "height": 669,
    "encoding": {
      "x": {"field": "x", "type": "quantitative", "scale": {"domain": [0, 3500], "nice": false, "zero": false},
        "axis": {"title": "Raman shift / cm⁻¹", "values": [0,500,1000,1500,2000,2500,3000,3500],
          "format": "d", "domain": false, "grid": false, "ticks": false,
          "labelFontSize": 27, "labelPadding": 16, "labelFlush": false, "labelOverlap": false,
          "titleFontSize": 33, "titlePadding": 20}},
      "y": {"field": "y", "type": "quantitative", "scale": {"domain": [0, 669], "nice": false, "zero": false},
        "axis": {"title": "Raman itensity / a.u.", "labels": false, "ticks": false, "domain": false, "grid": false,
          "titleFontSize": 34, "titlePadding": 45, "titleY": 313}}
    },
    "layer": [
      {"data": {"name": "ticksA"}, "mark": {"type": "rule", "strokeWidth": 2, "color": "black"},
       "encoding": {"y2": {"field": "y2"}}},
      {"data": {"name": "specA"}, "mark": {"type": "line", "strokeWidth": 2.4},
       "encoding": {"color": {"field": "s", "type": "nominal", "legend": null,
         "scale": {"domain": ["pristine","800-pellet","800-power","600-power","600-power-Al","Base line"], "range": ["#000000","#ff0000","#0000ff","#ff00ff","#0b7b0b","#22e822"]}}}},
      {"data": {"name": "baseA"}, "mark": {"type": "rule", "strokeWidth": 3, "color": "#22e822"},
       "encoding": {"x2": {"field": "x2"}, "y2": {"field": "y2"}}},
      {"data": {"name": "legendL"}, "mark": {"type": "rule", "strokeWidth": 3},
       "encoding": {"x2": {"field": "x2"}, "color": {"field": "s", "type": "nominal", "legend": null,
         "scale": {"domain": ["pristine","800-pellet","800-power","600-power","600-power-Al","Base line"], "range": ["#000000","#ff0000","#0000ff","#ff00ff","#0b7b0b","#22e822"]}}}},
      {"data": {"name": "legendT"}, "mark": {"type": "text", "align": "left", "baseline": "middle", "fontSize": 22, "color": "black"},
       "encoding": {"text": {"field": "s"}}},
      {"data": {"name": "peaksA"}, "mark": {"type": "text", "angle": 270, "align": "left", "baseline": "middle", "fontSize": 23, "color": "#1a1aff"},
       "encoding": {"text": {"field": "t"}}},
      {"data": {"name": "panelA"}, "mark": {"type": "text", "align": "center", "baseline": "middle", "fontSize": 20, "fontWeight": "bold", "color": "black"},
       "encoding": {"text": {"field": "t"}}}
    ]
  },
  {
    "width": 183, "height": 669,
    "encoding": {
      "x": {"field": "x", "type": "quantitative", "scale": {"domain": [1080, 1300], "nice": false, "zero": false},
        "axis": {"title": "Raman shift / cm⁻¹", "values": [1100,1200,1300],
          "format": "d", "domain": false, "grid": false, "ticks": false,
          "labelFontSize": 27, "labelPadding": 16, "labelFlush": false, "labelOverlap": false,
          "titleFontSize": 33, "titlePadding": 20}},
      "y": {"field": "y", "type": "quantitative", "scale": {"domain": [0, 669], "nice": false, "zero": false}, "axis": null}
    },
    "layer": [
      {"data": {"name": "ticksB"}, "mark": {"type": "rule", "strokeWidth": 2, "color": "black"},
       "encoding": {"y2": {"field": "y2"}}},
      {"data": {"name": "specB"}, "mark": {"type": "line", "strokeWidth": 2.4},
       "encoding": {"color": {"field": "s", "type": "nominal", "legend": null,
         "scale": {"domain": ["pristine","800-pellet","800-power","600-power","600-power-Al","Base line"], "range": ["#000000","#ff0000","#0000ff","#ff00ff","#0b7b0b","#22e822"]}}}},
      {"data": {"name": "baseB"}, "mark": {"type": "rule", "strokeWidth": 3, "color": "#22e822"},
       "encoding": {"x2": {"field": "x2"}}},
      {"data": {"name": "boxesB"}, "mark": {"type": "rect", "fill": null, "fillOpacity": 0, "stroke": "#333333", "strokeWidth": 1.3},
       "encoding": {"x2": {"field": "x2"}, "y2": {"field": "y2"}}},
      {"data": {"name": "boxText"}, "mark": {"type": "text", "align": "left", "baseline": "middle", "fontSize": 23, "color": "black"},
       "encoding": {"text": {"field": "t"}}},
      {"data": {"name": "peaksB"}, "mark": {"type": "text", "angle": 270, "align": "left", "baseline": "middle", "fontSize": 23, "color": "#1a1aff"},
       "encoding": {"text": {"field": "t"}}},
      {"data": {"name": "panelB"}, "mark": {"type": "text", "align": "center", "baseline": "middle", "fontSize": 20, "fontWeight": "bold", "color": "black"},
       "encoding": {"text": {"field": "t"}}}
    ]
  }
]
}
